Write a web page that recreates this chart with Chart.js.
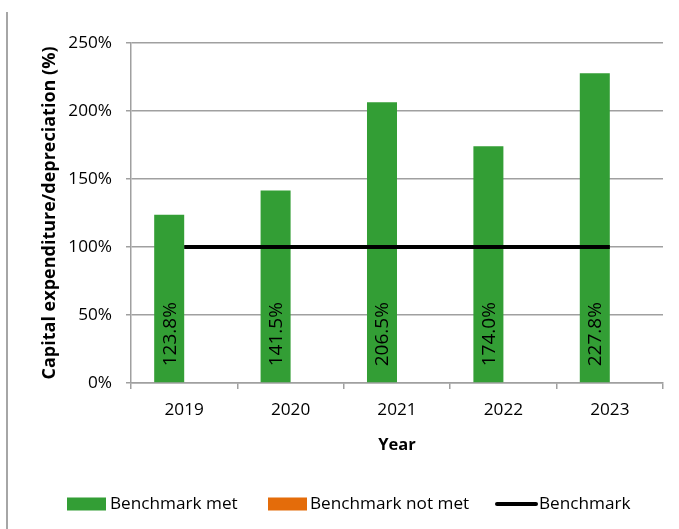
<!DOCTYPE html>
<html>
<head>
<meta charset="utf-8">
<script src="https://cdn.jsdelivr.net/npm/chart.js@4"></script>
<style>
  body { margin: 0; background: #fff; }
  #wrap { position: relative; width: 679px; height: 529px; }
  #edge { position: absolute; left: 6px; top: 12px; width: 2px; height: 517px; background: #a6a6a6; }
  canvas { position: absolute; left: 0; top: 0; }
</style>
</head>
<body>
<div id="wrap">
  <div id="edge"></div>
  <canvas id="chart" width="679" height="529"></canvas>
</div>
<script>
// 年ごとの値
const years = ['2019', '2020', '2021', '2022', '2023'];
const metValues = [123.8, 141.5, 206.5, 174.0, 227.8];
const notMetValues = [null, null, null, null, null];
const benchmarkValues = [100, 100, 100, 100, 100];
const yTicks = [0, 50, 100, 150, 200, 250];

const colors = {
    met: '#339e35',
    notMet: '#e46c0a',
    line: '#000000',
    grid: '#a0a0a0'
};
const fontFamily = '"Open Sans", sans-serif';
const textSize = 17.2;

// 棒の中に縦書きで値を描く
const barLabels = {
    id: 'barLabels',
    afterDatasetsDraw(chart) {
        const ctx = chart.ctx;
        const meta = chart.getDatasetMeta(0);
        ctx.save();
        ctx.font = '19px ' + fontFamily;
        ctx.fillStyle = '#000';
        ctx.textAlign = 'left';
        ctx.textBaseline = 'middle';
        meta.data.forEach((bar, i) => {
            ctx.save();
            ctx.translate(bar.x, bar.base - 16);
            ctx.rotate(-Math.PI / 2);
            ctx.fillText(metValues[i].toFixed(1) + '%', 0, 1);
            ctx.restore();
        });
        ctx.restore();
    }
};

// 下の凡例
const bottomLegend = {
    id: 'bottomLegend',
    afterDraw(chart) {
        const ctx = chart.ctx;
        const y = 504;
        ctx.save();
        ctx.font = textSize + 'px ' + fontFamily;
        ctx.textBaseline = 'middle';
        ctx.textAlign = 'left';

        ctx.fillStyle = colors.met;
        ctx.fillRect(67, y - 6.5, 39, 13);
        ctx.fillStyle = '#000';
        ctx.fillText(chart.data.datasets[0].label, 110, y);

        ctx.fillStyle = colors.notMet;
        ctx.fillRect(268, y - 6.5, 39, 13);
        ctx.fillStyle = '#000';
        ctx.fillText(chart.data.datasets[1].label, 310, y);

        ctx.strokeStyle = colors.line;
        ctx.lineWidth = 4;
        ctx.lineCap = 'round';
        ctx.beginPath();
        ctx.moveTo(497, y);
        ctx.lineTo(536, y);
        ctx.stroke();
        ctx.fillText(chart.data.datasets[2].label, 539, y);
        ctx.restore();
    }
};

new Chart(document.getElementById('chart'), {
    type: 'bar',
    data: {
        labels: years,
        datasets: [
            {
                label: 'Benchmark met',
                data: metValues,
                backgroundColor: colors.met,
                order: 1
            },
            {
                label: 'Benchmark not met',
                data: notMetValues,
                backgroundColor: colors.notMet,
                order: 1
            },
            {
                type: 'line',
                label: 'Benchmark',
                data: benchmarkValues,
                borderColor: colors.line,
                borderWidth: 4,
                pointRadius: 0,
                fill: false,
                order: 0
            }
        ]
    },
    options: {
        responsive: false,
        animation: false,
        layout: { padding: { left: 0, right: 16, top: 43, bottom: 0 } },
        datasets: {
            bar: { categoryPercentage: 0.564, barPercentage: 1 }
        },
        plugins: {
            legend: { display: false },
            tooltip: { enabled: false }
        },
        scales: {
            x: {
                offset: true,
                grid: {
                    offset: true,
                    drawOnChartArea: false,
                    drawTicks: true,
                    tickLength: 6,
                    color: colors.grid,
                    lineWidth: 1.5
                },
                border: { color: colors.grid, width: 1.5 },
                ticks: {
                    color: '#000',
                    padding: 11,
                    font: { family: fontFamily, size: textSize }
                },
                title: {
                    display: true,
                    text: 'Year',
                    color: '#000',
                    font: { family: fontFamily, size: 16.5, weight: 'bold' },
                    padding: { top: 0, bottom: 74 }
                },
                afterFit(scale) { scale.height = 146; }
            },
            y: {
                min: 0,
                max: 250,
                afterBuildTicks(scale) {
                    scale.ticks = yTicks.map(v => ({ value: v }));
                },
                grid: {
                    color: colors.grid,
                    lineWidth: 1.5,
                    tickLength: 5
                },
                border: { color: colors.grid, width: 1.5 },
                ticks: {
                    color: '#000',
                    padding: 14,
                    font: { family: fontFamily, size: textSize },
                    callback: v => v + '%'
                },
                title: {
                    display: true,
                    text: 'Capital expenditure/depreciation (%)',
                    color: '#000',
                    font: { family: fontFamily, size: 18, weight: 'bold' },
                    padding: { top: 39, bottom: 0 }
                },
                afterFit(scale) { scale.width = 131; }
            }
        }
    },
    plugins: [barLabels, bottomLegend]
});
</script>
</body>
</html>
